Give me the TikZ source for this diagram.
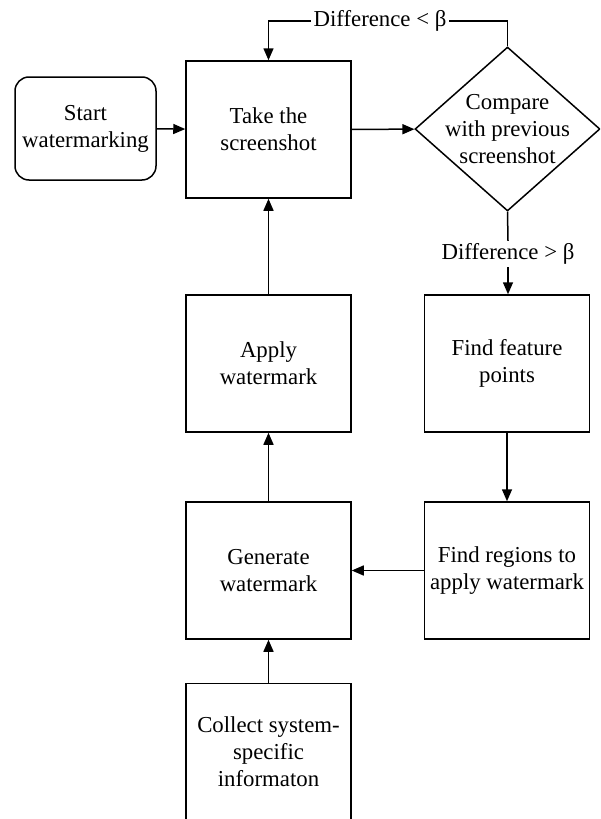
\documentclass[tikz,border=0pt]{standalone}
\usepackage{fontspec}
\setmainfont{Liberation Serif}
\usetikzlibrary{shapes.geometric,arrows.meta}
\begin{document}
\begin{tikzpicture}[x=1pt,y=-1pt,line width=1.5pt,
    font=\rmfamily\fontsize{22.8}{27}\selectfont,
    >={Triangle[length=12pt,width=10pt]},
    box/.style={draw,rectangle,align=center,minimum width=165pt,minimum height=137pt,inner sep=0pt},
    startbox/.style={draw,rectangle,rounded corners=14pt,align=center,minimum width=141pt,minimum height=103pt,inner sep=0pt},
    decision/.style={draw,diamond,minimum width=185pt,minimum height=164pt,inner sep=0pt},
    lbl/.style={inner sep=2pt,align=center}]
                  \clip (0,0) rectangle (600,819);

                  % Draw the boxes
                  \node[startbox] (start) at (85.5,128.5) {Start\\watermarking};
                  \node[box] (shot) at (268.5,129.5) {Take the\\screenshot};
                  \node[decision] (cmp) at (507.5,129) {};
                  \node[lbl] at (cmp) {Compare\\with previous\\screenshot};
                  \node[box] (feat) at (507,363.5) {Find feature\\points};
                  \node[box] (regions) at (507,570.5) {Find regions to\\apply watermark};
                  \node[box] (apply) at (268.5,363.5) {Apply\\watermark};
                  \node[box] (gen) at (268.5,570.5) {Generate\\watermark};
                  \node[box] (collect) at (268.5,752) {Collect system-\\specific\\informaton};

                  % Labels on the two exits of the comparison
                  \node[lbl] (ltlbl) at (380,21) {Difference < β};
                  \node[lbl] (gtlbl) at (508,254) {Difference > β};

                  % Draw the arrows
                  \draw[->] (start) -- (shot);
                  \draw[->] (shot) -- (cmp);
                  \draw (cmp.north) |- (ltlbl.east);
                  \draw[->] (ltlbl.west) -| (shot.north);
                  \draw (cmp.south) -- (gtlbl.north);
                  \draw[->] (gtlbl.south) -- (gtlbl.south |- feat.north);
                  \draw[->] (feat.south) -- (feat.south |- regions.north);
                  \draw[->] (regions.west) -- (gen.east);
                  \draw[->] (gen) -- (apply);
                  \draw[->] (apply) -- (shot);
                  \draw[->] (collect) -- (gen);

            \end{tikzpicture}
\end{document}
